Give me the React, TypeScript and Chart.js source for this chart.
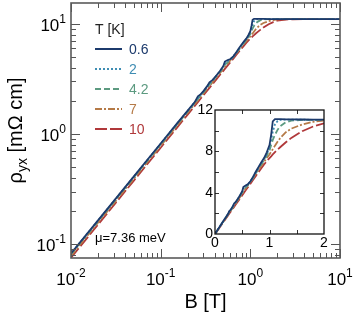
import React, { useEffect, useRef } from "react";
import { Chart, registerables } from "chart.js";
Chart.register(...registerables);

const FONT = "'Liberation Sans', Arial, sans-serif";

// Magnetic field B [T]
const B = [0.01, 0.02, 0.05, 0.1, 0.15, 0.2, 0.24, 0.26, 0.28, 0.3, 0.33, 0.35, 0.38, 0.42, 0.46, 0.5, 0.52, 0.56, 0.6, 0.65, 0.7, 0.75, 0.8, 0.85, 0.9, 0.95, 1.0, 1.03, 1.06, 1.1, 1.15, 1.2, 1.3, 1.4, 1.6, 1.8, 2.0, 2.5, 3, 5, 10];

// rho_yx [mOhm cm] for each temperature
const rho06 = [0.082, 0.164, 0.41, 0.82, 1.23, 1.63, 1.95, 2.2, 2.3, 2.45, 2.72, 2.95, 3.1, 3.42, 3.75, 4.15, 4.55, 4.7, 4.8, 5.1, 5.55, 6.05, 6.5, 6.95, 7.35, 7.9, 8.6, 9.6, 10.9, 11.12, 11.12, 11.12, 11.1, 11.1, 11.08, 11.07, 11.06, 11.05, 11.05, 11.05, 11.05];
const rho2 = [0.082, 0.163, 0.408, 0.815, 1.22, 1.62, 1.94, 2.12, 2.27, 2.43, 2.68, 2.88, 3.07, 3.4, 3.72, 4.1, 4.4, 4.6, 4.78, 5.1, 5.5, 5.98, 6.42, 6.85, 7.25, 7.7, 8.4, 9.1, 9.9, 10.6, 10.95, 11.05, 11.08, 11.07, 11.06, 11.05, 11.05, 11.05, 11.05, 11.05, 11.05];
const rho42 = [0.081, 0.161, 0.403, 0.805, 1.2, 1.6, 1.92, 2.08, 2.24, 2.4, 2.64, 2.82, 3.03, 3.36, 3.68, 4.02, 4.25, 4.5, 4.72, 5.05, 5.45, 5.9, 6.35, 6.75, 7.15, 7.6, 8.1, 8.6, 9.1, 9.6, 10.1, 10.45, 10.82, 10.97, 11.04, 11.05, 11.05, 11.05, 11.05, 11.05, 11.05];
const rho7 = [0.078, 0.156, 0.39, 0.78, 1.17, 1.56, 1.87, 2.03, 2.18, 2.34, 2.57, 2.73, 2.96, 3.27, 3.59, 3.9, 4.06, 4.37, 4.68, 5.05, 5.44, 5.83, 6.22, 6.6, 6.98, 7.35, 7.7, 7.95, 8.2, 8.55, 8.95, 9.3, 9.85, 10.2, 10.6, 10.85, 10.98, 11.04, 11.05, 11.05, 11.05];
const rho10 = [0.075, 0.15, 0.375, 0.75, 1.125, 1.5, 1.8, 1.95, 2.1, 2.25, 2.475, 2.625, 2.85, 3.15, 3.45, 3.75, 3.9, 4.2, 4.5, 4.87, 5.25, 5.62, 6.0, 6.36, 6.72, 7.05, 7.35, 7.52, 7.7, 7.92, 8.18, 8.42, 8.88, 9.3, 9.95, 10.4, 10.7, 10.97, 11.03, 11.05, 11.05];

const temps = ["0.6", "2", "4.2", "7", "10"];
const seriesList = [rho06, rho2, rho42, rho7, rho10];
const colors = ["#1c3a6c", "#3f8db3", "#5c9a80", "#b57a47", "#b0383a"];
const dashes = [[], [2, 2], [6, 3], [7, 2, 2, 2], [12, 3]];

const xTickExps = [-2, -1, 0, 1];
const yTickExps = [-1, 0, 1];
const insetXTicks = [0, 1, 2];
const insetYTicks = [0, 4, 8, 12];

const X_MIN = 0.01, X_MAX = 10, Y_MIN = 0.0746, Y_MAX = 15.5;

function makeDatasets() {
  return seriesList.map((s, k) => ({
    label: temps[k] + " K",
    data: B.map((b, i) => ({ x: b, y: s[i] })),
    borderColor: colors[k],
    borderWidth: 1.8,
    borderDash: dashes[k],
    pointRadius: 0,
    tension: 0,
    fill: false,
  }));
}

function line(ctx: CanvasRenderingContext2D, x1: number, y1: number, x2: number, y2: number) {
  ctx.beginPath();
  ctx.moveTo(x1, y1);
  ctx.lineTo(x2, y2);
  ctx.stroke();
}

function drawPow(ctx: CanvasRenderingContext2D, exp: number, x: number, y: number, align: string) {
  const base = `17px ${FONT}`, sup = `12px ${FONT}`;
  ctx.font = base;
  const wb = ctx.measureText("10").width;
  ctx.font = sup;
  const es = String(exp);
  const ws = ctx.measureText(es).width;
  const total = wb + ws;
  const x0 = align === "center" ? x - total / 2 : x - total;
  ctx.textAlign = "left";
  ctx.textBaseline = "alphabetic";
  ctx.font = base;
  ctx.fillText("10", x0, y);
  ctx.font = sup;
  ctx.fillText(es, x0 + wb, y - 8);
}

const mainPlugin = {
  id: "mainDecor",
  afterDraw(chart: any) {
    const ctx: CanvasRenderingContext2D = chart.ctx;
    const { left, right, top, bottom } = chart.chartArea;
    const xs = chart.scales.x, ys = chart.scales.y;
    ctx.save();
    ctx.strokeStyle = "#555";
    ctx.lineWidth = 1;
    for (let e = -3; e <= 1; e++) {
      for (let m = 1; m <= 9; m++) {
        const v = m * Math.pow(10, e);
        const len = m === 1 ? 9 : 5;
        if (v >= X_MIN * 0.999 && v <= X_MAX * 1.001) {
          const px = Math.round(xs.getPixelForValue(v)) + 0.5;
          line(ctx, px, bottom, px, bottom - len);
          line(ctx, px, top, px, top + len);
        }
        if (v >= Y_MIN && v <= Y_MAX) {
          const py = Math.round(ys.getPixelForValue(v)) + 0.5;
          line(ctx, left, py, left + len, py);
          line(ctx, right, py, right - len, py);
        }
      }
    }
    ctx.lineWidth = 1.6;
    ctx.strokeStyle = "#5a5a5a";
    ctx.strokeRect(left, top, right - left, bottom - top);

    ctx.fillStyle = "#000";
    for (const e of xTickExps) {
      drawPow(ctx, e, xs.getPixelForValue(Math.pow(10, e)), bottom + 27, "center");
    }
    for (const e of yTickExps) {
      drawPow(ctx, e, left - 5, ys.getPixelForValue(Math.pow(10, e)) + 7, "right");
    }

    // x title
    ctx.font = `20px ${FONT}`;
    ctx.textAlign = "center";
    ctx.textBaseline = "alphabetic";
    ctx.fillText("B [T]", (left + right) / 2, 308);

    // y title
    ctx.save();
    ctx.translate(22, (top + bottom) / 2);
    ctx.rotate(-Math.PI / 2);
    const p1 = "ρ", p2 = "yx", p3 = " [mΩ cm]";
    ctx.font = `20px ${FONT}`;
    const w1 = ctx.measureText(p1).width;
    const w3 = ctx.measureText(p3).width;
    ctx.font = `14px ${FONT}`;
    const w2 = ctx.measureText(p2).width;
    let xx = -(w1 + w2 + w3) / 2;
    ctx.textAlign = "left";
    ctx.font = `20px ${FONT}`;
    ctx.fillText(p1, xx, 0);
    xx += w1;
    ctx.font = `14px ${FONT}`;
    ctx.fillText(p2, xx, 5);
    xx += w2;
    ctx.font = `20px ${FONT}`;
    ctx.fillText(p3, xx, 0);
    ctx.restore();

    // legend
    ctx.font = `14px ${FONT}`;
    ctx.textBaseline = "middle";
    ctx.textAlign = "left";
    ctx.fillStyle = "#222";
    ctx.fillText("T [K]", 95, 30);
    temps.forEach((t, k) => {
      const y = 49 + k * 20;
      ctx.strokeStyle = colors[k];
      ctx.lineWidth = 2;
      ctx.setLineDash(dashes[k]);
      line(ctx, 95, y, 122, y);
      ctx.setLineDash([]);
      ctx.fillStyle = colors[k];
      ctx.fillText(t, 129, y + 1);
    });

    // annotation
    ctx.fillStyle = "#000";
    ctx.font = `13px ${FONT}`;
    ctx.fillText("μ=7.36 meV", 95, 238);
    ctx.restore();
  },
};

const insetPlugin = {
  id: "insetDecor",
  beforeDatasetsDraw(chart: any) {
    const ctx: CanvasRenderingContext2D = chart.ctx;
    const { left, right, top, bottom } = chart.chartArea;
    ctx.save();
    ctx.fillStyle = "#fff";
    ctx.fillRect(left, top, right - left, bottom - top);
    ctx.restore();
  },
  afterDraw(chart: any) {
    const ctx: CanvasRenderingContext2D = chart.ctx;
    const { left, right, top, bottom } = chart.chartArea;
    const xs = chart.scales.x, ys = chart.scales.y;
    ctx.save();
    ctx.strokeStyle = "#333";
    ctx.lineWidth = 1;
    for (let v = 0.5; v < 2; v += 0.5) {
      const px = Math.round(xs.getPixelForValue(v)) + 0.5;
      line(ctx, px, bottom, px, bottom - 4);
      line(ctx, px, top, px, top + 4);
    }
    for (let v = 2; v < 12; v += 2) {
      const py = Math.round(ys.getPixelForValue(v)) + 0.5;
      line(ctx, left, py, left + 4, py);
      line(ctx, right, py, right - 4, py);
    }
    ctx.strokeStyle = "#111";
    ctx.lineWidth = 1.3;
    ctx.strokeRect(left, top, right - left, bottom - top);
    ctx.fillStyle = "#000";
    ctx.font = `14px ${FONT}`;
    ctx.textAlign = "center";
    ctx.textBaseline = "middle";
    for (const v of insetXTicks) ctx.fillText(String(v), xs.getPixelForValue(v), bottom + 9);
    ctx.textAlign = "right";
    for (const v of insetYTicks) ctx.fillText(String(v), left - 2, ys.getPixelForValue(v));
    ctx.restore();
  },
};

export default function App() {
  const mainRef = useRef<HTMLCanvasElement>(null);
  const insetRef = useRef<HTMLCanvasElement>(null);

  useEffect(() => {
    document.body.style.margin = "0";
    const main = new Chart(mainRef.current!, {
      type: "line",
      data: { datasets: makeDatasets() as any },
      options: {
        responsive: false,
        animation: false,
        devicePixelRatio: 1,
        layout: { padding: { left: 71, top: 3, right: 14, bottom: 56 } },
        plugins: { legend: { display: false }, tooltip: { enabled: false } },
        scales: {
          x: { type: "logarithmic", min: X_MIN, max: X_MAX, display: false },
          y: { type: "logarithmic", min: Y_MIN, max: Y_MAX, display: false },
        },
      } as any,
      plugins: [mainPlugin],
    });
    const inset = new Chart(insetRef.current!, {
      type: "line",
      data: { datasets: makeDatasets() as any },
      options: {
        responsive: false,
        animation: false,
        devicePixelRatio: 1,
        layout: { padding: { left: 25, top: 15, right: 16, bottom: 21 } },
        plugins: { legend: { display: false }, tooltip: { enabled: false } },
        scales: {
          x: { type: "linear", min: 0, max: 2, display: false },
          y: { type: "linear", min: 0, max: 12, display: false },
        },
      } as any,
      plugins: [insetPlugin],
    });
    return () => {
      main.destroy();
      inset.destroy();
    };
  }, []);

  return (
    <div style={{ position: "fixed", left: 0, top: 0, width: 354, height: 314, background: "#fff" }}>
      <canvas ref={mainRef} width={354} height={314} style={{ position: "absolute", left: 0, top: 0, width: 354, height: 314 }} />
      <canvas ref={insetRef} width={150} height={160} style={{ position: "absolute", left: 190, top: 95, width: 150, height: 160 }} />
    </div>
  );
}
